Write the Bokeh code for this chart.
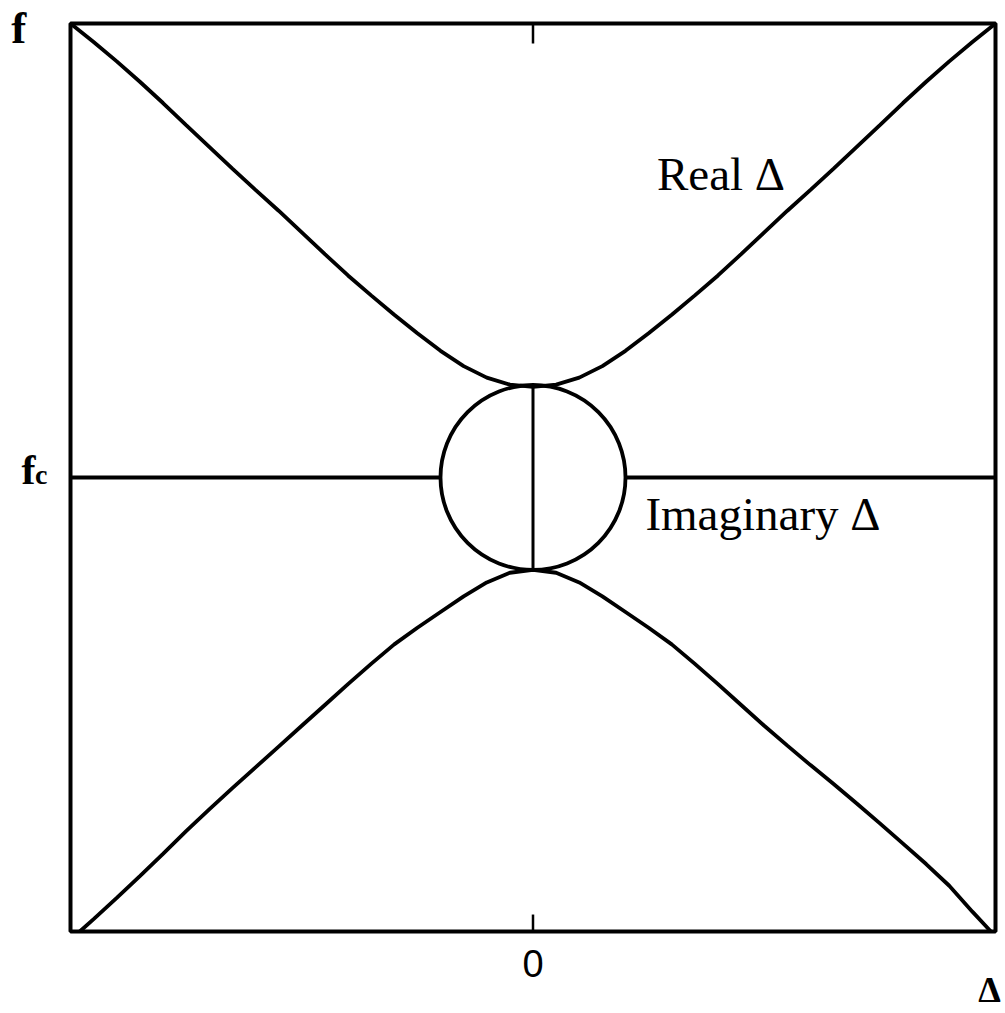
from bokeh.plotting import figure
from bokeh.models import Range1d, Label
from bokeh.embed import file_html
from bokeh.resources import INLINE

# Upper branch of f against detuning (real Δ, above f_c)
upper_delta = [-1.00, -0.95, -0.90, -0.85, -0.80, -0.75, -0.70, -0.65, -0.60, -0.55,
               -0.50, -0.45, -0.40, -0.35, -0.30, -0.25, -0.20, -0.15, -0.10, -0.05,
               0.00, 0.05, 0.10, 0.15, 0.20, 0.25, 0.30, 0.35, 0.40, 0.45,
               0.50, 0.55, 0.60, 0.65, 0.70, 0.75, 0.80, 0.85, 0.90, 0.95, 1.00]
upper_f = [0.982, 0.942, 0.900, 0.856, 0.810, 0.762, 0.715, 0.668, 0.622, 0.577,
           0.530, 0.483, 0.437, 0.394, 0.352, 0.312, 0.274, 0.241, 0.216, 0.201,
           0.196, 0.201, 0.216, 0.241, 0.274, 0.312, 0.352, 0.394, 0.437, 0.483,
           0.530, 0.577, 0.622, 0.668, 0.715, 0.762, 0.810, 0.856, 0.900, 0.942, 0.982]

# Lower branch (real Δ, below f_c)
lower_delta = [-0.98, -0.95, -0.90, -0.85, -0.80, -0.75, -0.70, -0.65, -0.60, -0.55,
               -0.50, -0.45, -0.40, -0.35, -0.30, -0.25, -0.20, -0.15, -0.10, -0.05,
               0.00, 0.05, 0.10, 0.15, 0.20, 0.25, 0.30, 0.35, 0.40, 0.45,
               0.50, 0.55, 0.60, 0.65, 0.70, 0.75, 0.80, 0.85, 0.90, 0.95, 0.99]
lower_f = [-0.982, -0.955, -0.909, -0.862, -0.814, -0.765, -0.718, -0.672, -0.627, -0.582,
           -0.537, -0.492, -0.447, -0.403, -0.361, -0.325, -0.291, -0.257, -0.227, -0.206,
           -0.200, -0.206, -0.227, -0.257, -0.291, -0.325, -0.361, -0.403, -0.447, -0.492,
           -0.537, -0.580, -0.622, -0.663, -0.705, -0.748, -0.792, -0.836, -0.883, -0.939, -0.982]

# Imaginary-Δ loop around f_c
loop_center_delta = 0.0
loop_center_f = 0.0
loop_radius = 0.2
fc_value = 0.0
stem_f = [-0.2, 0.2]
fc_left = [-1.0, -0.2]
fc_right = [0.2, 1.0]

# Plot box limits and the tick on the Δ axis
delta_min, delta_max = -1.0, 1.0
f_min, f_max = -0.982, 0.982
x_ticks = [0.0]
x_tick_labels = ["0"]

PX = 462.5  # pixels per data unit on both axes
p = figure(width=1005, height=1013,
           x_range=Range1d(delta_min - 70 / PX, delta_max + 10 / PX),
           y_range=Range1d(f_min - 82 / PX, f_max + 23 / PX),
           x_axis_type=None, y_axis_type=None,
           output_backend="svg", toolbar_location=None, min_border=0)
p.background_fill_color = "white"
p.border_fill_color = "white"
p.outline_line_color = None

LW = 3.8
# plot box
p.quad(left=[delta_min], right=[delta_max], bottom=[f_min], top=[f_max],
       fill_color=None, line_color="black", line_width=4)

# inward ticks at Δ = 0 on the bottom and top edges
tick_in_bottom = 17 / PX
tick_in_top = 20 / PX
p.segment(x0=x_ticks, y0=[f_min] * len(x_ticks), x1=x_ticks,
          y1=[f_min + tick_in_bottom] * len(x_ticks), line_color="black", line_width=2.5)
p.segment(x0=x_ticks, y0=[f_max] * len(x_ticks), x1=x_ticks,
          y1=[f_max - tick_in_top] * len(x_ticks), line_color="black", line_width=2.5)
p.text(x=x_ticks, y=[f_min - 32 / PX] * len(x_ticks), text=x_tick_labels,
       text_font={"value": "Liberation Sans"}, text_font_size="38px",
       text_align="center", text_baseline="alphabetic", text_color="black")

# curves
p.line(upper_delta, upper_f, line_color="black", line_width=LW)
p.line(lower_delta, lower_f, line_color="black", line_width=LW)
p.line(fc_left, [fc_value, fc_value], line_color="black", line_width=LW)
p.line(fc_right, [fc_value, fc_value], line_color="black", line_width=LW)
p.line([loop_center_delta, loop_center_delta], stem_f, line_color="black", line_width=3)
p.circle(x=[loop_center_delta], y=[loop_center_f], radius=loop_radius,
         fill_color=None, line_color="black", line_width=LW)

serif = "Liberation Serif"
labels = [
    dict(x=0.268, y=0.657, text="Real Δ", text_font_size="47px"),
    dict(x=0.243, y=-0.080, text="Imaginary Δ", text_font_size="47px"),
    dict(x=-1.128, y=0.972, text="f", text_font_size="45px", text_font_style="bold"),
    dict(x=-1.106, y=0.017, text="f", text_font_size="42px", text_font_style="bold"),
    dict(x=-1.077, y=0.006, text="c", text_font_size="28px", text_font_style="bold"),
    dict(x=0.987, y=-1.108, text="Δ", text_font_size="36px", text_font_style="bold",
         text_align="center"),
]
for kw in labels:
    p.add_layout(Label(text_font=serif, text_color="black",
                       text_baseline="alphabetic", **kw))

open("out.html", "w").write(file_html(p, INLINE))
